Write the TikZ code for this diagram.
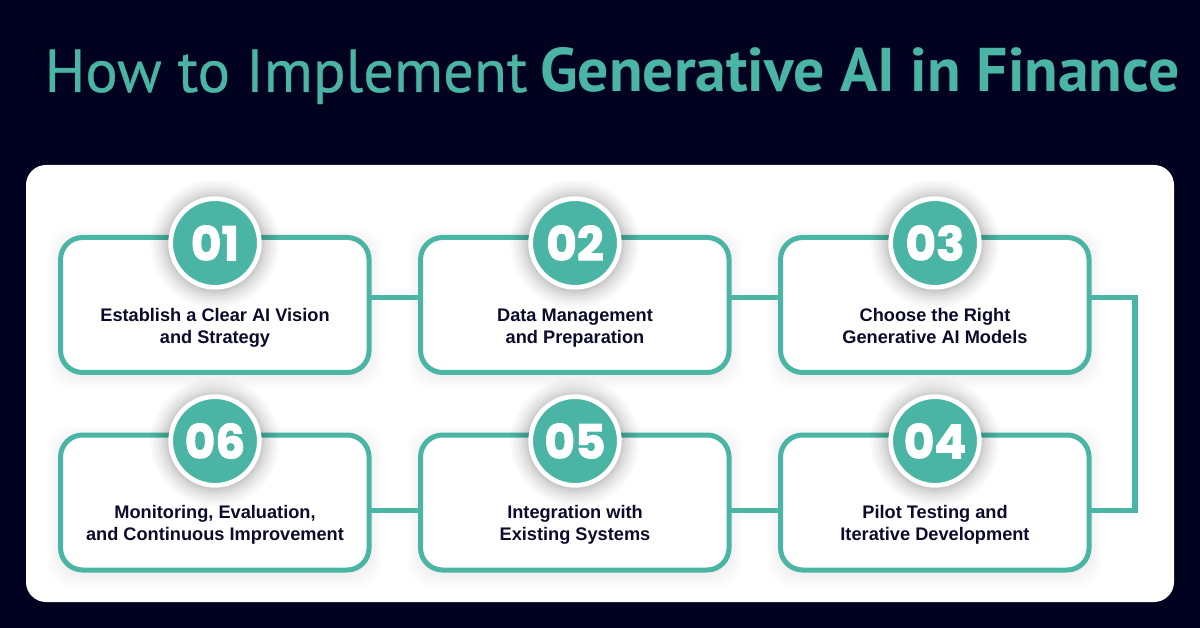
\documentclass[tikz,border=0pt]{standalone}
\usepackage{fontspec}
\setmainfont{Liberation Sans}
\newfontfamily\titlefont{PT Sans}
\newfontfamily\titlereg[FakeBold=0.5]{PT Sans}
\newfontfamily\numfont[FakeBold=2]{Poppins}
\definecolor{navy}{HTML}{01021F}
\definecolor{teal2}{HTML}{4AB5A5}
\definecolor{ink}{HTML}{0B0B2B}
\tikzset{
 stepbox/.style={draw=teal2,fill=white,line width=5pt,rounded corners=22pt,inner sep=0pt,outer sep=0pt,minimum width=308.5pt,minimum height=135pt},
 numdisc/.style={circle,fill=teal2,draw=white,line width=4.7pt,minimum size=88.7pt,inner sep=0pt,outer sep=0pt,text=white,font=\numfont\fontsize{47}{47}\selectfont\bfseries},
 steptext/.style={align=center,text=ink,font=\fontsize{18.2}{22}\selectfont\bfseries,inner sep=0pt},
 link/.style={draw=teal2,line width=5.5pt,line cap=butt,line join=miter},
}
\begin{document}
\begin{tikzpicture}[x=1pt,y=-1pt]
\useasboundingbox (0,0) rectangle (1200,628);
\fill[navy] (0,0) rectangle (1200,628);
\fill[white,rounded corners=20pt] (26,165) rectangle (1174,602);
\node[anchor=base west,inner sep=0pt,text=teal2] (title) at (44.5,92) {\titlereg\fontsize{60.5}{62}\selectfont How to Implement \hspace{-3.5pt}{\titlefont\bfseries\fontsize{61.7}{62}\selectfont Generative AI in Finance}};
% box shadows
\foreach \X/\Y in {215/305,575/305,935/305,215/503,575/503,935/503}{
 \foreach \r in {2,4,...,14}{
  \fill[black,opacity=0.006,rounded corners=24pt] (\X-154-\r,\Y-67-\r+3) rectangle (\X+154+\r,\Y+67+\r+3);
 }
}
\node[stepbox] (b1) at (214.8,305) {};
\node[stepbox] (b2) at (574.8,305) {};
\node[stepbox] (b3) at (934.8,305) {};
\node[stepbox] (b6) at (214.8,502.5) {};
\node[stepbox] (b5) at (574.8,502.5) {};
\node[stepbox] (b4) at (934.8,502.5) {};
\coordinate (turnA) at (1135,297.5);
\coordinate (turnB) at (1135,510.7);
\draw[link] ([yshift=7.5pt]b1.east) -- ([yshift=7.5pt]b2.west);
\draw[link] ([yshift=7.5pt]b2.east) -- ([yshift=7.5pt]b3.west);
\draw[link] ([yshift=7.5pt]b3.east) -- (turnA) -- (turnB) -- ([yshift=-8.2pt]b4.east);
\draw[link] ([yshift=-8.2pt]b4.west) -- ([yshift=-8.2pt]b5.east);
\draw[link] ([yshift=-8.2pt]b5.west) -- ([yshift=-8.2pt]b6.east);
% disc shadows: denser close to the disc
\foreach \X/\Y in {215/243,575/243,935/243,215/441,575/441,935/441}{
 \foreach \r in {1,2,...,12}{
  \fill[black,opacity=0.024] (\X,\Y+1) circle[radius=45.5+\r*\r*0.13];
 }
}
\node[numdisc] (n1) at (215,243) {01};
\node[numdisc] (n2) at (575,243) {02};
\node[numdisc] (n3) at (935,243) {03};
\node[numdisc] (n6) at (215,441) {06};
\node[numdisc] (n5) at (575,441) {05};
\node[numdisc] (n4) at (935,441) {04};
\node[steptext] (t1) at (215,328) {\strut Establish a Clear AI Vision\\\strut and Strategy};
\node[steptext] (t2) at (575,328) {\strut Data Management\\\strut and Preparation};
\node[steptext] (t3) at (935,328) {\strut Choose the Right\\\strut Generative AI Models};
\node[steptext] (t6) at (215,525.5) {\strut Monitoring, Evaluation,\\\strut and Continuous Improvement};
\node[steptext] (t5) at (575,525.5) {\strut Integration with\\\strut Existing Systems};
\node[steptext] (t4) at (935,525.5) {\strut Pilot Testing and\\\strut Iterative Development};
\end{tikzpicture}
\end{document}
